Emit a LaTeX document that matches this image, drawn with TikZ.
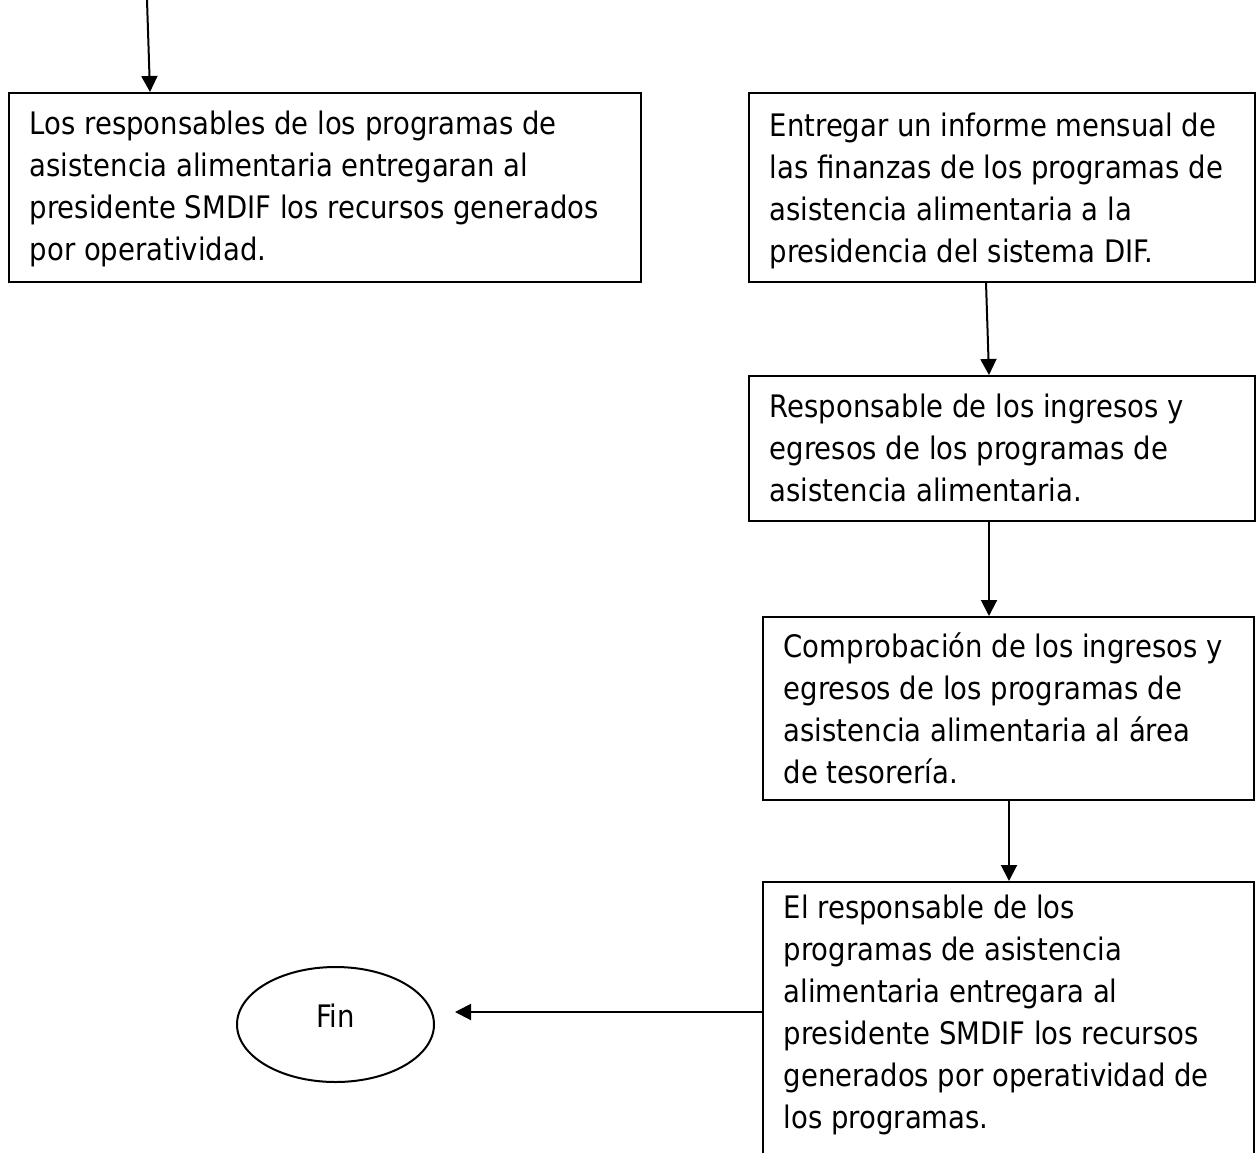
\documentclass[tikz,border=0pt]{standalone}
\usepackage{fontspec}
\setmainfont[FakeStretch=0.887]{DejaVu Sans}
\usetikzlibrary{arrows.meta,shapes.geometric}
\newcommand\bxt[4]{\parbox[t][#1][t]{#2}{\raggedright\rule{0pt}{#3}#4}}
\begin{document}
\begin{tikzpicture}[x=0.5pt,y=-0.5pt,
  txt/.style={font=\fontsize{15.5pt}{21pt}\selectfont},
  procbox/.style={txt, draw, line width=0.75pt, rectangle, anchor=north west, inner xsep=10.5pt, inner ysep=0pt},
  endnode/.style={txt, draw, ellipse, line width=1pt, inner sep=0pt, minimum width=98.5pt, minimum height=57.5pt},
  arr/.style={line width=1pt, -{Triangle[length=8pt,width=8pt]}},
]
\useasboundingbox (0,0) rectangle (1259,1152);
\clip (0,0) rectangle (1259,1152);

\node[procbox] (b1) at (8,92)
  {\bxt{94.5pt}{295pt}{21pt}{Los responsables de los programas de\\asistencia alimentaria entregaran al\\presidente SMDIF los recursos generados\\por operatividad.}};

\node[procbox] (b2) at (748,92)
  {\bxt{94.5pt}{232pt}{22pt}{Entregar un informe mensual de\\las finanzas de los programas de\\asistencia alimentaria a la\\presidencia del sistema DIF.}};

\node[procbox] (b3) at (748,375)
  {\bxt{72.5pt}{232pt}{21pt}{Responsable de los ingresos y\\egresos de los programas de\\asistencia alimentaria.}};

\node[procbox] (b4) at (762,616)
  {\bxt{91.5pt}{224.5pt}{20.5pt}{Comprobación de los ingresos y\\egresos de los programas de\\asistencia alimentaria al área\\de tesorería.}};

\node[procbox] (b5) at (762,881)
  {\bxt{140.5pt}{224.5pt}{18.5pt}{El responsable de los\\programas de asistencia\\alimentaria entregara al\\presidente SMDIF los recursos\\generados por operatividad de\\los programas.}};

\node[endnode] (fin) at (335.5,1024.5) {\raisebox{-1.25pt}[0pt][0pt]{Fin}};

\coordinate (start) at (147,0);
\draw[arr] (start) -- ([xshift=71pt]b1.north west);
\draw[arr] ([xshift=119pt]b2.south west) -- ([xshift=120.5pt]b3.north west);
\draw[arr] ([xshift=120.5pt]b3.south west) -- ([xshift=113.5pt]b4.north west);
\draw[arr] ([xshift=123.5pt]b4.south west) -- ([xshift=123.5pt]b5.north west);
\draw[arr] ([yshift=-65.5pt]b5.north west) -- ([shift={(10pt,6.25pt)}]fin.east);
\end{tikzpicture}
\end{document}
